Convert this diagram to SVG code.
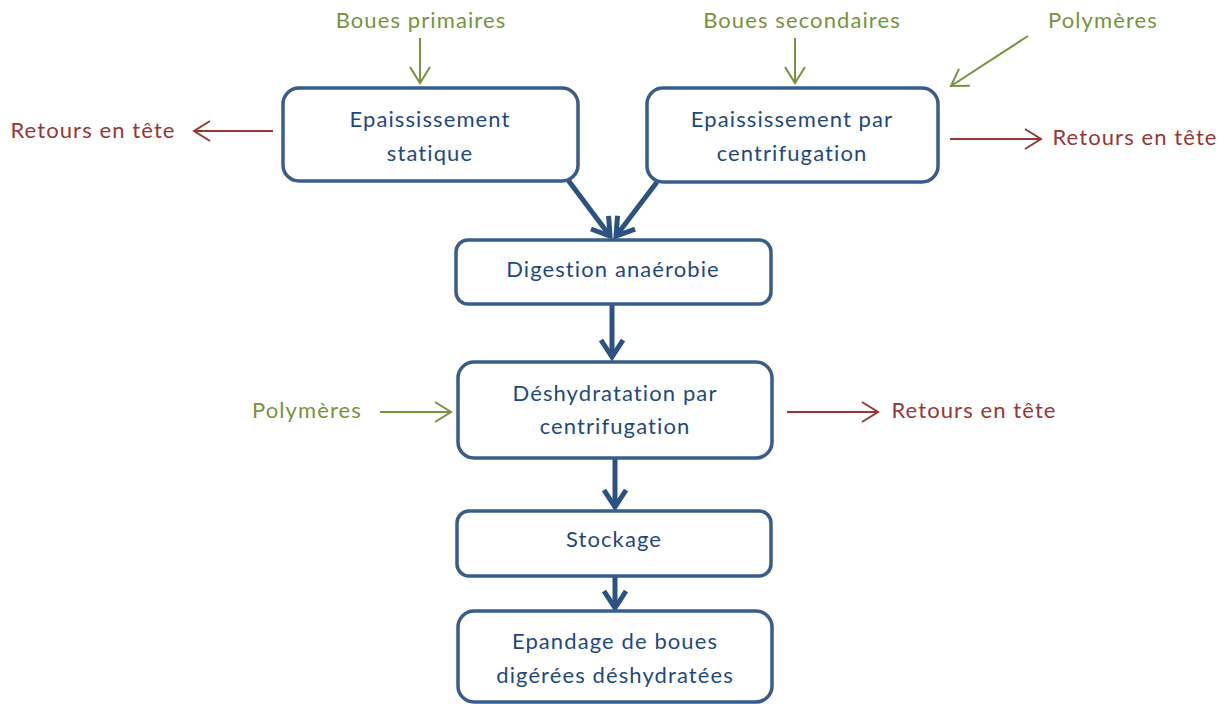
<svg xmlns="http://www.w3.org/2000/svg" width="1226" height="704" viewBox="0 0 1226 704">
<defs>
<style>
.box{fill:#fff;stroke:#385d8a;stroke-width:3.5}
.t{font-family:Lato,"Open Sans","Liberation Sans",sans-serif;font-size:22px;letter-spacing:1.1px;text-anchor:middle}
.nt{fill:#1f497d}
.g{fill:#77933c}
.r{fill:#953735}
.main{stroke:#2c5282;stroke-width:5;fill:none}
.gl{stroke:#77933c;stroke-width:2;fill:none}
.rl{stroke:#953735;stroke-width:2;fill:none}
</style>
<marker id="mb" viewBox="0 0 26 26" refX="20" refY="13" markerWidth="26" markerHeight="26" markerUnits="userSpaceOnUse" orient="auto">
<path d="M3,2 L20,13 L3,24" fill="none" stroke="#2c5282" stroke-width="5" stroke-linejoin="miter"/>
</marker>
<marker id="mg" viewBox="0 0 24 24" refX="21" refY="12" markerWidth="24" markerHeight="24" markerUnits="userSpaceOnUse" orient="auto">
<path d="M5,2 L21,12 L5,22" fill="none" stroke="#77933c" stroke-width="2"/>
</marker>
<marker id="mr" viewBox="0 0 24 24" refX="21" refY="12" markerWidth="24" markerHeight="24" markerUnits="userSpaceOnUse" orient="auto">
<path d="M5,2 L21,12 L5,22" fill="none" stroke="#953735" stroke-width="2"/>
</marker>
</defs>
<rect width="1226" height="704" fill="#fff"/>
<g id="connectors">
<line class="main" x1="568" y1="180" x2="610" y2="236" marker-end="url(#mb)"/>
<line class="main" x1="657" y1="182" x2="616" y2="236" marker-end="url(#mb)"/>
<line class="main" x1="612" y1="305" x2="612" y2="357" marker-end="url(#mb)"/>
<line class="main" x1="615" y1="459" x2="615" y2="507" marker-end="url(#mb)"/>
<line class="main" x1="615" y1="577" x2="615" y2="608" marker-end="url(#mb)"/>
<line class="gl" x1="420" y1="38" x2="420" y2="83" marker-end="url(#mg)"/>
<line class="gl" x1="795" y1="38" x2="795" y2="83" marker-end="url(#mg)"/>
<line class="gl" x1="1028" y1="36" x2="951" y2="86" marker-end="url(#mg)"/>
<line class="gl" x1="380" y1="412" x2="451" y2="412" marker-end="url(#mg)"/>
<line class="rl" x1="273" y1="131" x2="194" y2="131" marker-end="url(#mr)"/>
<line class="rl" x1="950" y1="139" x2="1041" y2="139" marker-end="url(#mr)"/>
<line class="rl" x1="787" y1="412" x2="878" y2="412" marker-end="url(#mr)"/>
</g>
<g id="n1"><rect class="box" x="283" y="88" width="295" height="93" rx="16"/>
<text class="t nt" x="430" y="127">Epaississement</text><text class="t nt" x="430" y="161">statique</text></g>
<g id="n2"><rect class="box" x="647" y="88" width="291" height="94" rx="16"/>
<text class="t nt" x="792" y="127">Epaississement par</text><text class="t nt" x="792" y="161">centrifugation</text></g>
<g id="n3"><rect class="box" x="456" y="240" width="315" height="64" rx="12"/>
<text class="t nt" x="613" y="277">Digestion anaérobie</text></g>
<g id="n4"><rect class="box" x="458" y="362" width="314" height="96" rx="16"/>
<text class="t nt" x="615" y="401">Déshydratation par</text><text class="t nt" x="615" y="434">centrifugation</text></g>
<g id="n5"><rect class="box" x="457" y="511" width="314" height="65" rx="12"/>
<text class="t nt" x="614" y="547">Stockage</text></g>
<g id="n6"><rect class="box" x="458" y="611" width="314" height="91" rx="16"/>
<text class="t nt" x="615" y="649">Epandage de boues</text><text class="t nt" x="615" y="683">digérées déshydratées</text></g>
<g id="labels">
<text class="t g" x="421" y="28">Boues primaires</text>
<text class="t g" x="802" y="28">Boues secondaires</text>
<text class="t g" x="1103" y="28">Polymères</text>
<text class="t g" x="307" y="418">Polymères</text>
<text class="t r" x="93" y="138">Retours en tête</text>
<text class="t r" x="1135" y="145">Retours en tête</text>
<text class="t r" x="974" y="418">Retours en tête</text>
</g>
</svg>
